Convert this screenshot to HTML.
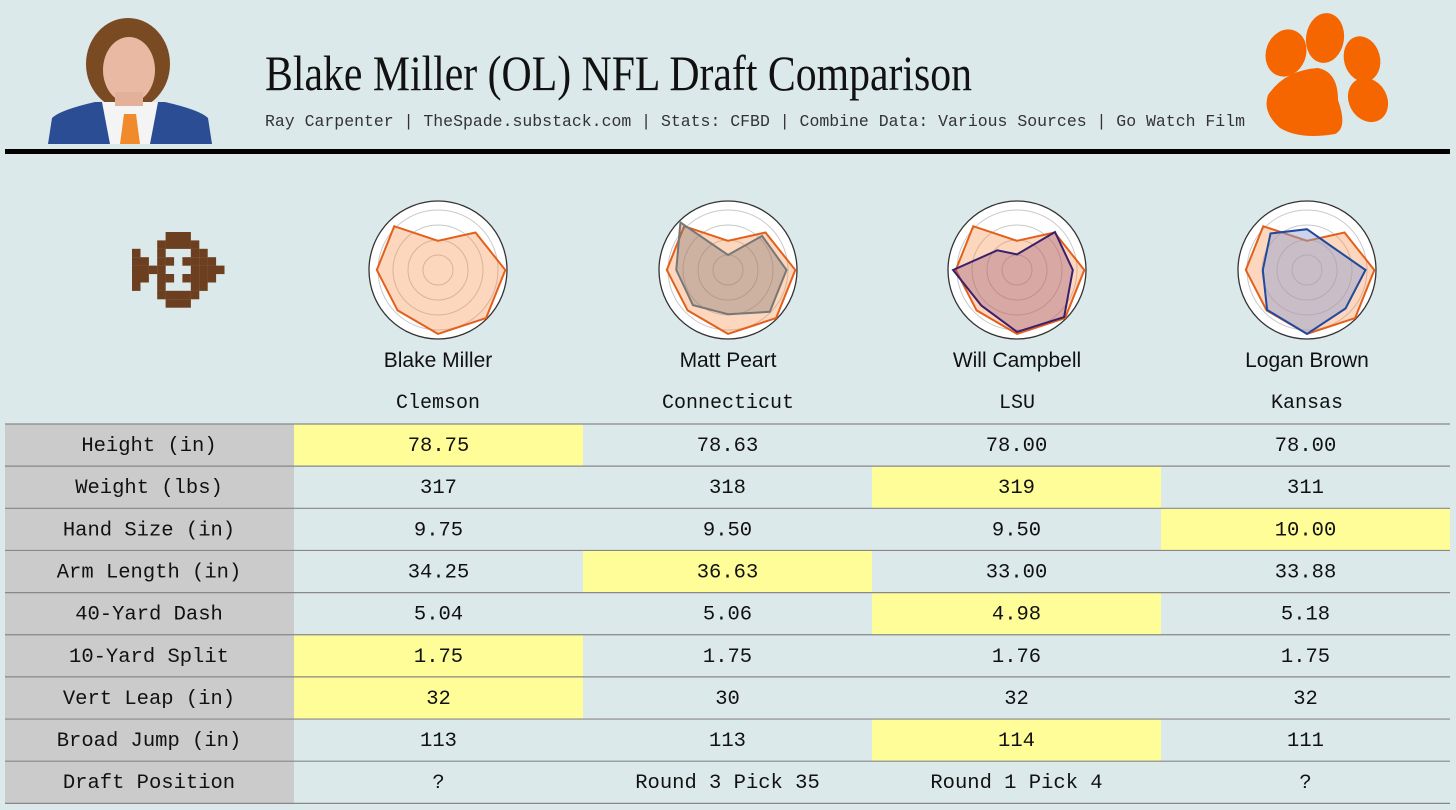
<!DOCTYPE html>
<html><head><meta charset="utf-8">
<style>
html,body{margin:0;padding:0;background:#dce9eb;}
svg{display:block;}
.mono{font-family:"Liberation Mono",monospace;}
.sans{font-family:"Liberation Sans","DejaVu Sans",sans-serif;}
</style></head>
<body>
<svg id="chart" width="1456" height="810" viewBox="0 0 1456 810" xmlns="http://www.w3.org/2000/svg">
<rect x="0" y="0" width="1456" height="810" fill="#dce9eb"/>
<!-- photo -->
<g>
  <ellipse cx="128" cy="64" rx="42" ry="46" fill="#7a4a22"/>
  <path d="M48,144 L52,118 Q60,110 95,102 L165,102 Q200,110 208,118 L212,144 Z" fill="#2a4d94"/>
  <path d="M102,102 L158,102 L150,144 L110,144 Z" fill="#f4f4f4"/>
  <path d="M124,114 L136,114 L140,144 L120,144 Z" fill="#f08a2a"/>
  <ellipse cx="129" cy="70" rx="26" ry="33" fill="#e9b9a3"/>
  <rect x="115" y="92" width="28" height="14" fill="#e3b09a"/>
</g>
<!-- title -->
<text x="265" y="90" font-family="'Liberation Serif',serif" font-size="50" fill="#111" textLength="707" lengthAdjust="spacingAndGlyphs">Blake Miller (OL) NFL Draft Comparison</text>
<text x="265" y="126" class="mono" font-size="16.5" fill="#333" textLength="980" lengthAdjust="spacingAndGlyphs">Ray Carpenter | TheSpade.substack.com | Stats: CFBD | Combine Data: Various Sources | Go Watch Film</text>
<!-- paw logo -->
<g fill="#f56600">
  <ellipse cx="1286" cy="53" rx="20" ry="24" transform="rotate(20 1286 53)"/>
  <ellipse cx="1325" cy="38" rx="19" ry="25" transform="rotate(8 1325 38)"/>
  <ellipse cx="1362" cy="59" rx="18" ry="23" transform="rotate(-15 1362 59)"/>
  <ellipse cx="1368" cy="100" rx="19" ry="23" transform="rotate(-30 1368 100)"/>
  <path d="M1268,95 Q1285,70 1318,68 Q1338,72 1338,100 Q1348,128 1335,134 Q1300,140 1280,128 Q1262,112 1268,95 Z"/>
</g>
<rect x="5" y="149" width="1445" height="5" fill="#000"/>
<g id="pixel-logo" fill="#6b3f1f"></g>
<g id="radars"></g>
<g id="table"></g>
</svg>
<script>
const NS="http://www.w3.org/2000/svg";
function mk(tag,attrs,parent){const e=document.createElementNS(NS,tag);for(const k in attrs)e.setAttribute(k,attrs[k]);parent.appendChild(e);return e;}

// pixel logo
const pix=["....XXX....","...XXXXX...","X..X...XX..","XX.XX.XXXX.","XXXX...XXXX","XX.XX.XXXX.","X..X...XX..","...XXXXX...","....XXX...."];
const pl=document.getElementById('pixel-logo');
pix.forEach((row,r)=>{[...row].forEach((c,ci)=>{if(c==='X'){const px=mk('rect',{x:132+ci*8.4,y:232+r*8.4,width:8.5,height:8.5},pl);

}});});

// radar data
const playerNames=["Blake Miller","Matt Peart","Will Campbell","Logan Brown"];
const schools=["Clemson","Connecticut","LSU","Kansas"];
const blakeVals=[0.43,0.78,0.99,1.0,0.94,0.84,0.9,0.91];
const peartVals=[0.22,0.71,0.86,0.87,0.65,0.73,0.76,0.99];
const campbellVals=[0.23,0.79,0.82,0.98,0.91,0.74,0.94,0.41];
const brownVals=[0.6,0.5,0.86,0.8,0.94,0.83,0.65,0.76];
const compVals=[null,peartVals,campbellVals,brownVals];
const compStroke=[null,"#777777","#3a1f6e","#1f4aa0"];
const compFill=[null,"rgba(120,110,110,0.35)","rgba(150,80,120,0.35)","rgba(140,160,210,0.45)"];
const centersX=[438,728,1017,1307];
const cy=270,R=68;
const rg=document.getElementById('radars');
function pts(vals,cx){return vals.map((v,i)=>{const a=-Math.PI/2+i*2*Math.PI/vals.length;return (cx+Math.cos(a)*v*R).toFixed(1)+","+(cy+Math.sin(a)*v*R).toFixed(1);}).join(" ");}
centersX.forEach((cx,k)=>{
  const g=mk('g',{},rg);
  
  
  mk('circle',{cx:cx,cy:cy,r:69,fill:"#fff",stroke:"#333","stroke-width":1.3},g);
  [15,30,45,60].forEach(r=>mk('circle',{cx:cx,cy:cy,r:r,fill:"none",stroke:"#c8c8c8","stroke-width":1},g));
  const pb=mk('polygon',{points:pts(blakeVals,cx),fill:"rgba(245,140,70,0.35)",stroke:"#e2601c","stroke-width":2},g);
  
  
  if(compVals[k]){const pc=mk('polygon',{points:pts(compVals[k],cx),fill:compFill[k],stroke:compStroke[k],"stroke-width":2},g);
  
  }
  const nt=mk('text',{x:cx,y:367,"text-anchor":"middle","font-size":21,fill:"#111",class:"sans"},rg);nt.textContent=playerNames[k];
  
  
  const st=mk('text',{x:cx,y:408,"text-anchor":"middle","font-size":20,fill:"#111",class:"mono"},rg);st.textContent=schools[k];
  
  
});

// table
const rowLabels=["Height (in)","Weight (lbs)","Hand Size (in)","Arm Length (in)","40-Yard Dash","10-Yard Split","Vert Leap (in)","Broad Jump (in)","Draft Position"];
const colMiller=["78.75","317","9.75","34.25","5.04","1.75","32","113","?"];
const colPeart=["78.63","318","9.50","36.63","5.06","1.75","30","113","Round 3 Pick 35"];
const colCampbell=["78.00","319","9.50","33.00","4.98","1.76","32","114","Round 1 Pick 4"];
const colBrown=["78.00","311","10.00","33.88","5.18","1.75","32","111","?"];
const highlights=[[0],[2],[3],[1],[2],[0],[0],[2],[]];
const cols=[colMiller,colPeart,colCampbell,colBrown];
const tg=document.getElementById('table');
const top0=424,rh=42.15,colX=[294,583,872,1161],cw=289;
rowLabels.forEach((lab,r)=>{
  const y=top0+r*rh;
  const lr=mk('rect',{x:5,y:y,width:289,height:rh,fill:"#cbcbcb"},tg);
  
  
  highlights[r].forEach(c=>{const hr=mk('rect',{x:colX[c],y:y,width:cw,height:rh,fill:"#fffd98"},tg);
  
  });
  const lt=mk('text',{x:149,y:y+27,"text-anchor":"middle","font-size":20.5,fill:"#111",class:"mono"},tg);lt.textContent=lab;
  
  
  cols.forEach((col,c)=>{const t=mk('text',{x:colX[c]+cw/2,y:y+27,"text-anchor":"middle","font-size":20.5,fill:"#111",class:"mono"},tg);t.textContent=col[r];
  
  });
});
for(let r=0;r<=rowLabels.length;r++){const ln=mk('line',{x1:5,x2:1450,y1:top0+r*rh,y2:top0+r*rh,stroke:"#888","stroke-width":1.2},tg);

}
</script>
</body></html>
